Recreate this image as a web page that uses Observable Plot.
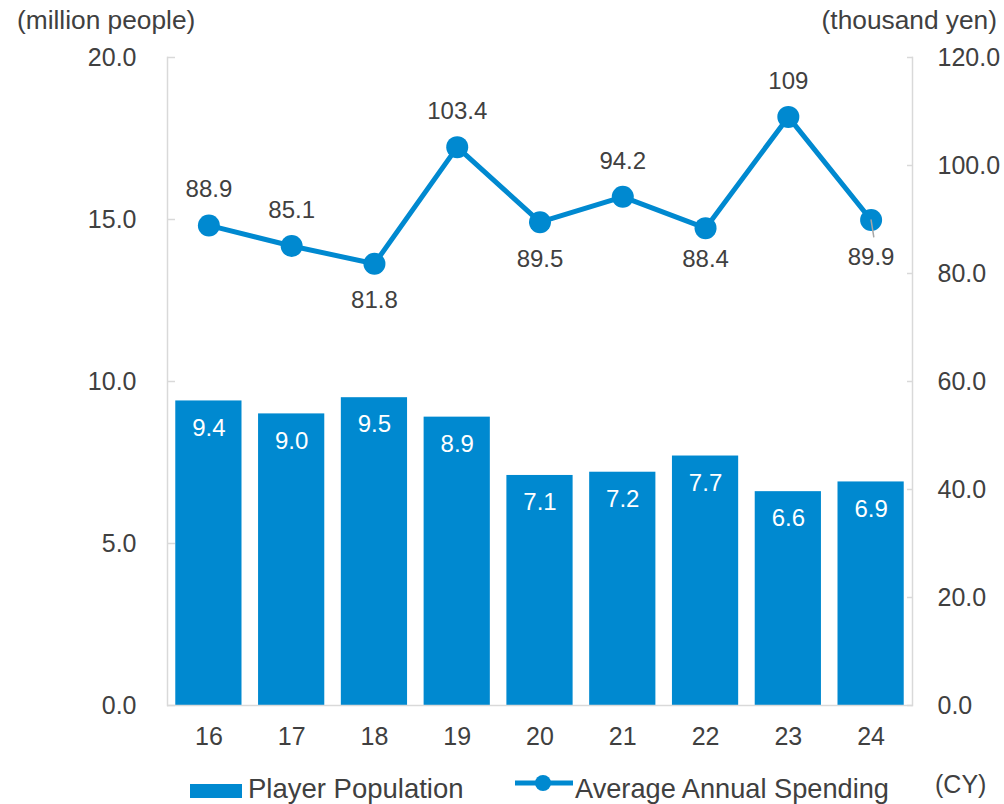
<!DOCTYPE html>
<html><head><meta charset="utf-8">
<script src="https://cdn.jsdelivr.net/npm/d3@7"></script>
<script src="https://cdn.jsdelivr.net/npm/@observablehq/plot@0.6"></script>
<style>
body{margin:0;background:#fff;font-family:"Liberation Sans",Arial,sans-serif;color:#404040}
#wrap{position:relative;width:1004px;height:804px;overflow:hidden}
.t{position:absolute;white-space:nowrap;line-height:1}
</style></head><body>
<div id="wrap">
  <div id="chart" style="position:absolute;left:0;top:0"></div>
  <div class="t" style="left:17px;top:7px;font-size:26.3px">(million people)</div>
  <div class="t" style="right:7px;top:7px;font-size:26.3px">(thousand yen)</div>
  <div style="position:absolute;left:190px;top:784px;width:52px;height:14px;background:#0089d0"></div>
  <div class="t" style="left:248px;top:775px;font-size:27.5px">Player Population</div>
  <svg style="position:absolute;left:515px;top:773px" width="60" height="20"><line x1="0" y1="10" x2="58" y2="10" stroke="#0089d0" stroke-width="5"/><circle cx="28" cy="10" r="8" fill="#0089d0"/></svg>
  <div class="t" style="left:575px;top:775px;font-size:27.2px">Average Annual Spending</div>
  <div class="t" style="left:935px;top:772px;font-size:25px">(CY)</div>
</div>
<script>
const years = ["16","17","18","19","20","21","22","23","24"];
const players = [9.4, 9.0, 9.5, 8.9, 7.1, 7.2, 7.7, 6.6, 6.9];
const spending = [88.9, 85.1, 81.8, 103.4, 89.5, 94.2, 88.4, 109, 89.9];
const spendingLabels = ["88.9","85.1","81.8","103.4","89.5","94.2","88.4","109","89.9"];
const leftTicks = [0, 5, 10, 15, 20];
const rightTicks = [0, 20, 40, 60, 80, 100, 120];

const BLUE = "#0089d0";
const GRID = "#d9d9d9";
const K = 6; // right axis max / left axis max
const belowYears = new Set(["18","20","24"]);
const belowNearYears = new Set(["22"]);

const data = years.map((y, i) => ({
  year: y, players: players[i], spending: spending[i],
  spendScaled: spending[i] / K, label: spendingLabels[i]
}));

const leaderShape = {draw(context, l) { context.moveTo(0, 0); context.lineTo(0, -l); }};

const chart = Plot.plot({
  width: 1004,
  height: 765,
  marginTop: 57,
  marginBottom: 60,
  marginLeft: 167,
  marginRight: 92,
  style: {fontFamily: "Liberation Sans, Arial, sans-serif", color: "#404040", background: "transparent"},
  x: {domain: years, paddingInner: 0.2, paddingOuter: 0.1, round: false, label: null},
  y: {domain: [0, 20], label: null},
  marks: [
    Plot.barY(data, {x: "year", y: "players", fill: BLUE}),
    Plot.ruleY([0], {stroke: GRID, strokeWidth: 1.5}),
    Plot.frame({anchor: "left", stroke: GRID, strokeWidth: 1.5}),
    Plot.frame({anchor: "right", stroke: GRID, strokeWidth: 1.5}),
    Plot.axisY({anchor: "left", ticks: leftTicks, tickSize: 0, tickPadding: 31,
      tickFormat: d => d.toFixed(1), fontSize: 25, label: null}),
    Plot.axisY({anchor: "left", ticks: leftTicks, tickSize: -8, tickFormat: () => "",
      stroke: GRID, strokeWidth: 1.5, label: null}),
    Plot.axisY({anchor: "right", ticks: rightTicks.map(d => d / K), tickSize: 0, tickPadding: 25,
      tickFormat: d => (d * K).toFixed(1), fontSize: 25, label: null}),
    Plot.axisY({anchor: "right", ticks: rightTicks.map(d => d / K), tickSize: -6, tickFormat: () => "",
      stroke: GRID, strokeWidth: 1.5, label: null}),
    Plot.axisX({tickSize: 0, tickPadding: 22, fontSize: 25, label: null}),
    Plot.text(data, {x: "year", y: "players", text: d => d.players.toFixed(1),
      fill: "white", dy: 27, fontSize: 24}),
    Plot.lineY(data, {x: "year", y: "spendScaled", stroke: BLUE, strokeWidth: 5}),
    Plot.dot(data, {x: "year", y: "spendScaled", r: 11, fill: BLUE}),
    Plot.vector(data.filter(d => d.year === "24"), {x: "year", y: "spendScaled",
      length: 17, rotate: 171, anchor: "start", shape: leaderShape, stroke: "#a6a6a6", strokeWidth: 1.5}),
    Plot.text(data.filter(d => !belowYears.has(d.year) && !belowNearYears.has(d.year)), {x: "year", y: "spendScaled",
      text: "label", dy: -36, fontSize: 24, fill: "#404040"}),
    Plot.text(data.filter(d => belowYears.has(d.year)), {x: "year", y: "spendScaled",
      text: "label", dy: 37, fontSize: 24, fill: "#404040"}),
    Plot.text(data.filter(d => belowNearYears.has(d.year)), {x: "year", y: "spendScaled",
      text: "label", dy: 31, fontSize: 24, fill: "#404040"})
  ]
});
document.getElementById("chart").appendChild(chart);
</script>
</body></html>
